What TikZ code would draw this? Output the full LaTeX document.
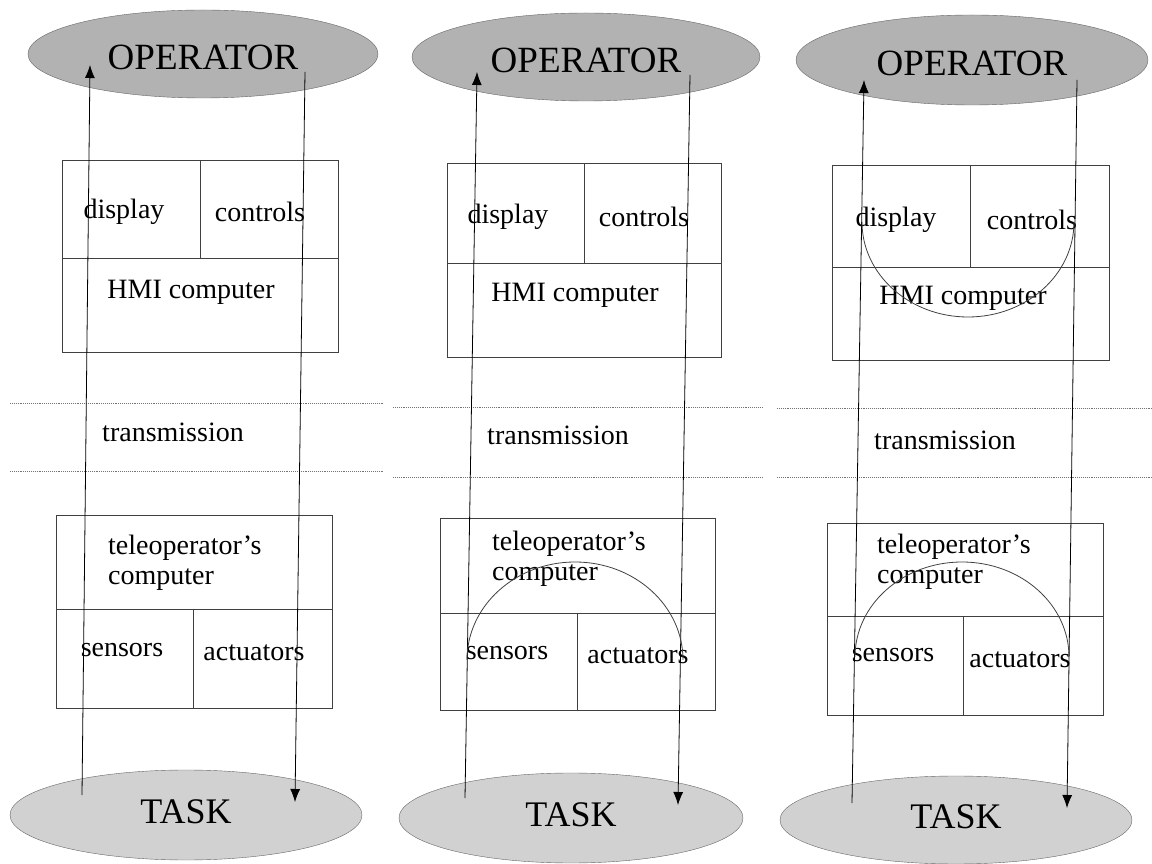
\documentclass[tikz,border=0pt]{standalone}
\usepackage{fontspec}
\setmainfont{Liberation Serif}
\usetikzlibrary{shapes.geometric,arrows.meta}

\begin{document}
\begin{tikzpicture}[x=1pt,y=1pt,
  opnode/.style={ellipse, draw=black!60, fill=black!30, inner sep=0pt, font=\fontsize{37}{42}\selectfont, text height=32pt, text depth=0pt},
  tasknode/.style={ellipse, draw=black!60, fill=black!18, inner sep=0pt, font=\fontsize{36}{41}\selectfont, text height=24pt, text depth=8pt},
  cell/.style={draw=black!75, line width=0.8pt, inner sep=0pt},
  lbl/.style={inner sep=0pt, font=\fontsize{28}{30}\selectfont},
  flow/.style={-{Latex[length=13pt,width=10pt]}, line width=0.8pt},
  loopline/.style={line width=0.8pt, black!75},
  sepline/.style={densely dotted, line width=0.9pt, black!55}]
\useasboundingbox (0,0) rectangle (1152,863);

\node[opnode, minimum width=350, minimum height=88] (op1) at (203,809) {OPERATOR};
\node[opnode, minimum width=348, minimum height=88] (op2) at (586,806) {OPERATOR};
\node[opnode, minimum width=352, minimum height=90] (op3) at (972,803) {OPERATOR};
\node[tasknode, minimum width=352, minimum height=90] (task1) at (186,48) {TASK};
\node[tasknode, minimum width=344, minimum height=90] (task2) at (571,45) {TASK};
\node[tasknode, minimum width=352, minimum height=88] (task3) at (956,43) {TASK};

\node[cell, minimum width=138, minimum height=98] (disp1) at (131,654) {};
\node[cell, minimum width=138, minimum height=98] (ctrl1) at (269,654) {};
\node[cell, minimum width=276, minimum height=94] (hmi1) at (200,558) {};
\node[cell, minimum width=276, minimum height=94] (tele1) at (194,301) {};
\node[cell, minimum width=137, minimum height=99] (sens1) at (124.5,204.5) {};
\node[cell, minimum width=139, minimum height=99] (act1) at (262.5,204.5) {};

\node[cell, minimum width=137, minimum height=100] (disp2) at (515.5,650) {};
\node[cell, minimum width=137, minimum height=100] (ctrl2) at (652.5,650) {};
\node[cell, minimum width=274, minimum height=94] (hmi2) at (584,553) {};
\node[cell, minimum width=275, minimum height=95] (tele2) at (577.5,297.5) {};
\node[cell, minimum width=137, minimum height=97] (sens2) at (508.5,201.5) {};
\node[cell, minimum width=138, minimum height=97] (act2) at (646,201.5) {};

\node[cell, minimum width=138, minimum height=102] (disp3) at (901,647) {};
\node[cell, minimum width=139, minimum height=102] (ctrl3) at (1039.5,647) {};
\node[cell, minimum width=277, minimum height=93] (hmi3) at (970.5,549.5) {};
\node[cell, minimum width=276, minimum height=93] (tele3) at (965,293.5) {};
\node[cell, minimum width=136, minimum height=99] (sens3) at (895,197.5) {};
\node[cell, minimum width=140, minimum height=99] (act3) at (1033,197.5) {};

\node[lbl] (dispt1) at (124,651) {display};
\node[lbl] (ctrlt1) at (260,651) {controls};
\node[lbl] (hmit1) at (191,571) {HMI computer};
\node[lbl] (trans1) at (173,431) {transmission};
\node[lbl, anchor=west, align=left] (telet1) at (108,300) {teleoperator’s\\computer};
\node[lbl] (senst1) at (122,213) {sensors};
\node[lbl] (actt1) at (254,210) {actuators};

\node[lbl] (dispt2) at (508,646) {display};
\node[lbl] (ctrlt2) at (644,646) {controls};
\node[lbl] (hmit2) at (575,568) {HMI computer};
\node[lbl] (trans2) at (558,428) {transmission};
\node[lbl, anchor=west, align=left] (telet2) at (492,304) {teleoperator’s\\computer};
\node[lbl] (senst2) at (507,210) {sensors};
\node[lbl] (actt2) at (638,207) {actuators};

\node[lbl] (dispt3) at (896,643) {display};
\node[lbl] (ctrlt3) at (1032,643) {controls};
\node[lbl] (hmit3) at (963,565) {HMI computer};
\node[lbl] (trans3) at (945,423) {transmission};
\node[lbl, anchor=west, align=left] (telet3) at (877,301) {teleoperator’s\\computer};
\node[lbl] (senst3) at (893,208) {sensors};
\node[lbl] (actt3) at (1020,203) {actuators};

\foreach \a/\b/\y in {10/383/460, 10/383/392, 393/763/456, 393/763/386, 777/1152/455, 777/1152/386}
    \draw[sepline] (\a,\y) -- (\b,\y);

\coordinate (up1s) at (82,68);
\coordinate (up1e) at (90,798);
\coordinate (dn1s) at (305,791);
\coordinate (dn1e) at (295,61);
\coordinate (up2s) at (465,65);
\coordinate (up2e) at (477,791);
\coordinate (dn2s) at (690,788);
\coordinate (dn2e) at (678,58);
\coordinate (up3s) at (852,60);
\coordinate (up3e) at (864,783);
\coordinate (dn3s) at (1077,783);
\coordinate (dn3e) at (1067,55);
\draw[flow] (up1s) -- (up1e);
\draw[flow] (dn1s) -- (dn1e);
\draw[flow] (up2s) -- (up2e);
\draw[flow] (dn2s) -- (dn2e);
\draw[flow] (up3s) -- (up3e);
\draw[flow] (dn3s) -- (dn3e);

\coordinate (lp2) at (467,203);
\coordinate (lp3) at (855,206);
\coordinate (hp3) at (862,641);
\draw[loopline] (lp2) arc[start angle=180, end angle=0, x radius=108, y radius=98];
\draw[loopline] (lp3) arc[start angle=180, end angle=0, x radius=107, y radius=95];
\draw[loopline] (hp3) arc[start angle=180, end angle=360, x radius=106, y radius=95];
\end{tikzpicture}
\end{document}
